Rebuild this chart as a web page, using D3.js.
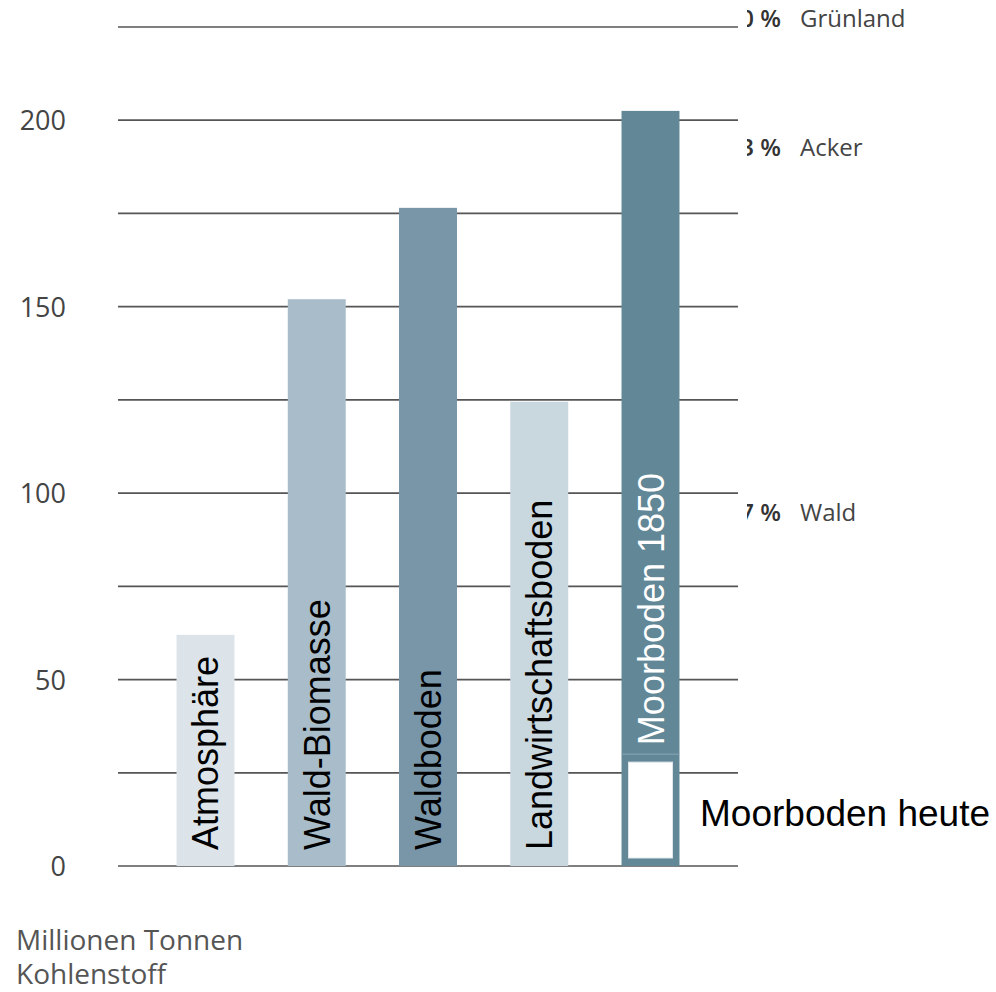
<!DOCTYPE html>
<html>
<head>
<meta charset="utf-8">
<script src="https://cdn.jsdelivr.net/npm/d3@7"></script>
<style>
  html, body { margin: 0; padding: 0; background: #fff; }
  svg { display: block; }
</style>
</head>
<body>
<svg id="chart" width="996" height="992"></svg>
<script>
const categories = ['Atmosphäre', 'Wald-Biomasse', 'Waldboden', 'Landwirtschaftsboden', 'Moorboden 1850'];
const values = [62, 152, 176.5, 124.5, 202.5];
const barColors = ['#dce4ea', '#a8bdc9', '#7896a8', '#c9d7df', '#628797'];
const labelColors = ['#000', '#000', '#000', '#000', '#fff'];
const moorHeute = 30;
const yTicks = [0, 50, 100, 150, 200];
const gridValues = [0, 25, 50, 75, 100, 125, 150, 175, 200, 225];
const sideLabels = [
  { pct: '30 %', name: 'Grünland', value: 225 },
  { pct: '13 %', name: 'Acker', value: 190.5 },
  { pct: '57 %', name: 'Wald', value: 92.5 },
];

const svg = d3.select('#chart');

const x = d3.scaleBand()
  .domain(categories)
  .range([118, 738])
  .paddingInner(0.479)
  .paddingOuter(0.526);

const y = d3.scaleLinear()
  .domain([0, 225])
  .range([866, 27]);

// gridlines
svg.append('g')
  .selectAll('line')
  .data(gridValues)
  .join('line')
  .attr('x1', 118)
  .attr('x2', 738)
  .attr('y1', (d) => y(d))
  .attr('y2', (d) => y(d))
  .attr('stroke', '#555')
  .attr('stroke-width', 1.7);

// y tick labels
svg.append('g')
  .selectAll('text')
  .data(yTicks)
  .join('text')
  .attr('x', 66)
  .attr('y', (d) => y(d) + 10)
  .attr('text-anchor', 'end')
  .attr('font-family', 'Open Sans, sans-serif')
  .attr('font-size', 27)
  .attr('fill', '#444')
  .text((d) => d);

// bars
svg.append('g')
  .selectAll('rect')
  .data(categories)
  .join('rect')
  .attr('x', (d) => x(d))
  .attr('width', x.bandwidth())
  .attr('y', (d, i) => y(values[i]))
  .attr('height', (d, i) => y(0) - y(values[i]))
  .attr('fill', (d, i) => barColors[i]);

// Moorboden heute: inner white box
const moorX = x('Moorboden 1850');
svg.append('line')
  .attr('x1', moorX)
  .attr('x2', moorX + x.bandwidth())
  .attr('y1', y(moorHeute))
  .attr('y2', y(moorHeute))
  .attr('stroke', '#8aa7b4')
  .attr('stroke-width', 1);
svg.append('rect')
  .attr('x', moorX + 7)
  .attr('width', x.bandwidth() - 14)
  .attr('y', y(moorHeute) + 8)
  .attr('height', y(0) - y(moorHeute) - 16)
  .attr('fill', '#fff')
  .attr('stroke', '#dfe7eb')
  .attr('stroke-width', 1);

// bar labels
svg.append('g')
  .selectAll('text')
  .data(categories)
  .join('text')
  .attr('transform', (d, i) => {
    const cx = x(d) + x.bandwidth() / 2 + 13;
    const startY = i === 4 ? y(moorHeute) - 9 : 850;
    return `translate(${cx},${startY}) rotate(-90)`;
  })
  .attr('font-family', 'Liberation Sans, Arial, sans-serif')
  .attr('font-size', 36)
  .attr('fill', (d, i) => labelColors[i])
  .text((d) => d);

svg.append('text')
  .attr('x', 700)
  .attr('y', 826)
  .attr('font-family', 'Liberation Sans, Arial, sans-serif')
  .attr('font-size', 37)
  .attr('fill', '#000')
  .text('Moorboden heute');

// side labels, clipped on the left like the source
svg.append('clipPath')
  .attr('id', 'sideClip')
  .append('rect')
  .attr('x', 747)
  .attr('y', 0)
  .attr('width', 249)
  .attr('height', 992);

const side = svg.append('g').attr('clip-path', 'url(#sideClip)');
side.selectAll('text.pct')
  .data(sideLabels)
  .join('text')
  .attr('class', 'pct')
  .attr('x', 781)
  .attr('y', (d) => y(d.value))
  .attr('text-anchor', 'end')
  .attr('font-family', 'Open Sans, sans-serif')
  .attr('font-size', 24)
  .attr('font-weight', 600)
  .attr('fill', '#333')
  .text((d) => d.pct);
side.selectAll('text.name')
  .data(sideLabels)
  .join('text')
  .attr('class', 'name')
  .attr('x', 800)
  .attr('y', (d) => y(d.value))
  .attr('font-family', 'Open Sans, sans-serif')
  .attr('font-size', 24)
  .attr('fill', '#444')
  .text((d) => d.name);

// unit label
const unit = svg.append('text')
  .attr('font-family', 'Open Sans, sans-serif')
  .attr('font-size', 28)
  .attr('fill', '#555');
unit.append('tspan').attr('x', 16).attr('y', 950).text('Millionen Tonnen');
unit.append('tspan').attr('x', 16).attr('y', 984).text('Kohlenstoff');
</script>
</body>
</html>
